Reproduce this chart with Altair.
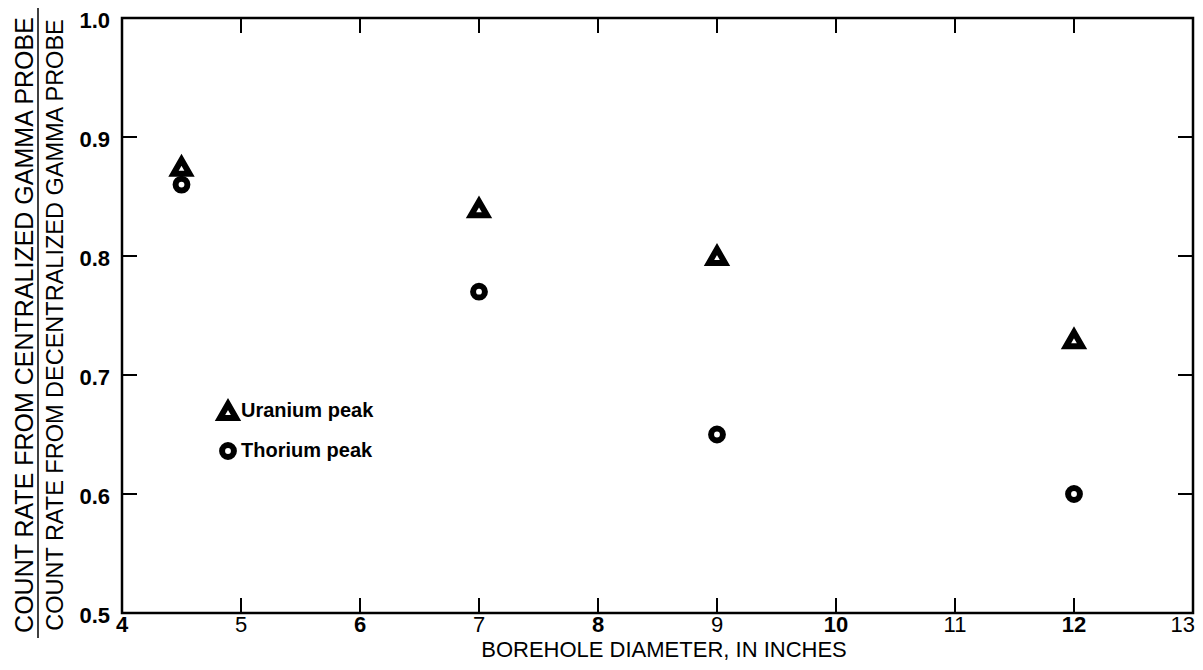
import altair as alt
import pandas as pd

# ---- data ----
diameter = [4.5, 7, 9, 12]
uranium = [0.875, 0.84, 0.80, 0.73]
thorium = [0.86, 0.77, 0.65, 0.60]
series_names = ["Uranium peak", "Thorium peak"]

x_ticks = [5, 6, 7, 8, 9, 10, 11, 12]
y_ticks = [0.6, 0.7, 0.8, 0.9]
x_labels = [4, 5, 6, 7, 8, 9, 10, 11, 12, 13]
y_labels = [0.5, 0.6, 0.7, 0.8, 0.9, 1.0]

y_title_top = "COUNT RATE FROM CENTRALIZED GAMMA PROBE"
y_title_bottom = "COUNT RATE FROM DECENTRALIZED GAMMA PROBE"
x_title = "BOREHOLE DIAMETER, IN INCHES"

W, H = 1071, 595
FONT = "Liberation Sans"
TICK = 15
LBL = 22

rows = []
for d, u, t in zip(diameter, uranium, thorium):
    rows.append({"d": d, "v": u, "s": series_names[0]})
    rows.append({"d": d, "v": t, "s": series_names[1]})
df = pd.DataFrame(rows)

xs = alt.Scale(domain=[4, 13], nice=False, zero=False)
ys = alt.Scale(domain=[0.5, 1.0], nice=False, zero=False)


def legend():
    return alt.Legend(orient="none", legendX=95, legendY=382, title=None,
                      labelFontSize=20, labelFont=FONT, labelFontWeight="bold",
                      labelColor="black", symbolStrokeWidth=6,
                      symbolStrokeColor="black", symbolFillColor="white",
                      rowPadding=3, labelOffset=2)


points = alt.Chart(df).mark_point(filled=False, strokeWidth=6, color="black", opacity=1).encode(
    x=alt.X("d:Q", scale=xs, axis=None),
    y=alt.Y("v:Q", scale=ys, axis=None),
    shape=alt.Shape("s:N", scale=alt.Scale(domain=series_names, range=["triangle-up", "circle"]),
                    legend=legend()),
    size=alt.Size("s:N", scale=alt.Scale(domain=series_names, range=[256, 140]),
                  legend=legend()),
)

xt = pd.DataFrame({"t": x_ticks})
yt = pd.DataFrame({"t": y_ticks})
xl = pd.DataFrame({"t": x_labels})
yl = pd.DataFrame({"t": y_labels})
one = pd.DataFrame({"a": [0]})

rule = dict(color="black", strokeWidth=2)
tick_bottom = alt.Chart(xt).mark_rule(**rule).encode(
    x=alt.X("t:Q", scale=xs, axis=None), y=alt.value(H), y2=alt.value(H - TICK))
tick_top = alt.Chart(xt).mark_rule(**rule).encode(
    x=alt.X("t:Q", scale=xs, axis=None), y=alt.value(0), y2=alt.value(TICK))
tick_left = alt.Chart(yt).mark_rule(**rule).encode(
    y=alt.Y("t:Q", scale=ys, axis=None), x=alt.value(0), x2=alt.value(TICK))
tick_right = alt.Chart(yt).mark_rule(**rule).encode(
    y=alt.Y("t:Q", scale=ys, axis=None), x=alt.value(W - TICK), x2=alt.value(W))

# tick labels (alternating weights as in the original print)
XLY = H + 19
xlab_bold = alt.Chart(xl).transform_filter("datum.t % 2 == 0").mark_text(
    font=FONT, fontSize=LBL, fontWeight="bold", color="black", baseline="alphabetic", align="center").encode(
    x=alt.X("t:Q", scale=xs, axis=None), y=alt.value(XLY), text=alt.Text("t:Q"))
xlab_norm = alt.Chart(xl).transform_filter("datum.t % 2 == 1 && datum.t < 13").mark_text(
    font=FONT, fontSize=LBL, fontWeight="normal", color="black", baseline="alphabetic", align="center").encode(
    x=alt.X("t:Q", scale=xs, axis=None), y=alt.value(XLY), text=alt.Text("t:Q"))
xlab_last = alt.Chart(xl).transform_filter("datum.t == 13").mark_text(
    font=FONT, fontSize=LBL, fontWeight="normal", color="black", baseline="alphabetic", align="right", dx=2).encode(
    x=alt.X("t:Q", scale=xs, axis=None), y=alt.value(XLY), text=alt.Text("t:Q"))
ylab = alt.Chart(yl).mark_text(
    font=FONT, fontSize=22, fontWeight="bold", color="black", baseline="alphabetic", align="right", dx=-12, dy=10).encode(
    y=alt.Y("t:Q", scale=ys, axis=None), x=alt.value(0), text=alt.Text("t:Q", format=".1f"))

ytitle1 = alt.Chart(one).mark_text(angle=270, font=FONT, fontSize=25, color="black",
                                   baseline="alphabetic", align="center").encode(
    x=alt.value(-89), y=alt.value(307), text=alt.value(y_title_top))
ytitle2 = alt.Chart(one).mark_text(angle=270, font=FONT, fontSize=23.5, color="black",
                                   baseline="alphabetic", align="center").encode(
    x=alt.value(-59), y=alt.value(307), text=alt.value(y_title_bottom))
frac_bar = alt.Chart(one).mark_rule(color="black", strokeWidth=1.5).encode(
    x=alt.value(-84), y=alt.value(-11), y2=alt.value(620))
xtitle = alt.Chart(one).mark_text(font=FONT, fontSize=22, color="black",
                                  baseline="alphabetic", align="center").encode(
    x=alt.value(542), y=alt.value(H + 44), text=alt.value(x_title))

chart = alt.layer(points, tick_bottom, tick_top, tick_left, tick_right,
                  xlab_bold, xlab_norm, xlab_last, ylab,
                  ytitle1, ytitle2, frac_bar, xtitle).properties(
    width=W, height=H,
    autosize=alt.AutoSizeParams(type="none"),
    padding={"left": 114, "top": 10, "right": 2, "bottom": 49},
    background="white",
).configure_view(stroke="black", strokeWidth=2.5)

chart.save("out.html", embed_options={"renderer": "svg", "actions": False})
